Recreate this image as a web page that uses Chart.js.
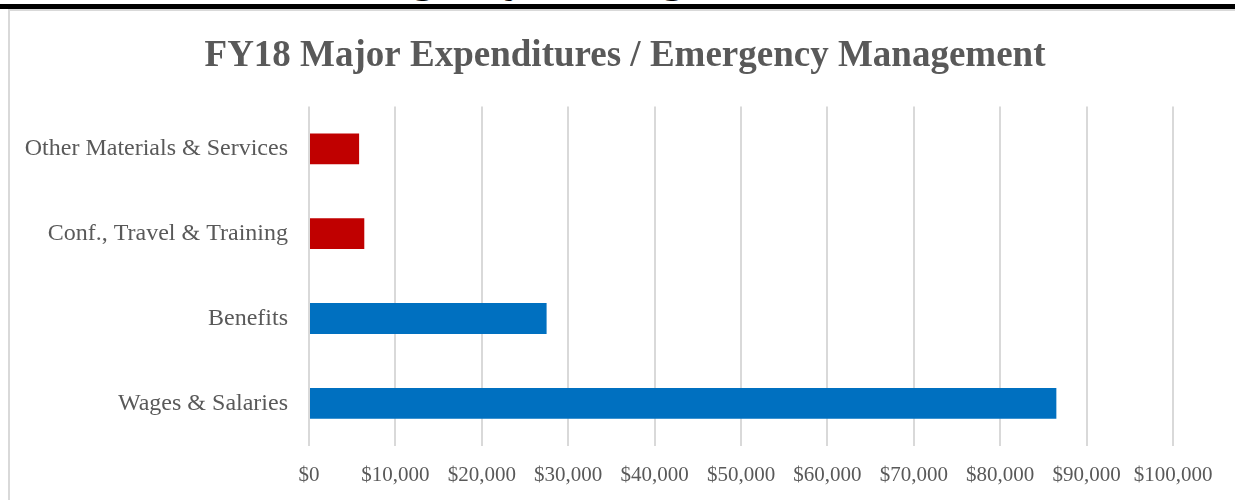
<!DOCTYPE html>
<html>
<head>
<meta charset="utf-8">
<script src="https://cdn.jsdelivr.net/npm/chart.js@4.4.1/dist/chart.umd.min.js"></script>
<style>
  html, body { margin: 0; padding: 0; background: #fff; overflow: hidden; }
  #heading {
    position: absolute; left: 296px; top: -49px;
    font: bold 48px "Liberation Serif", "Times New Roman", serif;
    color: #000; white-space: nowrap; line-height: 48px;
  }
  #rule { position: absolute; left: 0; top: 4px; width: 1235px; height: 5px; background: #000; }
  #box {
    position: absolute; left: 8px; top: 9px; width: 1240px; height: 500px;
    border-top: 2px solid #d9d9d9; border-left: 2px solid #d9d9d9;
  }
  #chart { display: block; }
</style>
</head>
<body>
<div id="heading">Emergency Management</div>
<div id="rule"></div>
<div id="box">
  <canvas id="chart" width="1230" height="489"></canvas>
</div>
<script>
// categories, top to bottom
const categories = ['Other Materials & Services', 'Conf., Travel & Training', 'Benefits', 'Wages & Salaries'];
const amounts = [5800, 6400, 27500, 86500];
const barColors = ['#C00000', '#C00000', '#0070C0', '#0070C0'];
const xTickLabels = ['$0', '$10,000', '$20,000', '$30,000', '$40,000', '$50,000',
                     '$60,000', '$70,000', '$80,000', '$90,000', '$100,000'];

const serif = '"Liberation Serif", "Times New Roman", serif';
const grey = '#595959';

// centre the title over the whole canvas, not just the padded area
const fullWidthTitle = {
  id: 'fullWidthTitle',
  afterLayout(chart) {
    if (chart.titleBlock) {
      chart.titleBlock.left = 0;
      chart.titleBlock.right = chart.width;
    }
  }
};

new Chart(document.getElementById('chart').getContext('2d'), {
  type: 'bar',
  data: {
    labels: categories,
    datasets: [{
      label: 'FY18',
      data: amounts,
      backgroundColor: barColors,
      borderWidth: 0,
      categoryPercentage: 1,
      barPercentage: 0.364
    }]
  },
  options: {
    indexAxis: 'y',
    responsive: false,
    animation: false,
    layout: { padding: { left: 0, right: 67, top: 0, bottom: -5 } },
    plugins: {
      legend: { display: false },
      tooltip: { enabled: false },
      title: {
        display: true,
        text: 'FY18 Major Expenditures / Emergency Management',
        color: grey,
        font: { family: serif, size: 37, weight: 'bold' },
        padding: { top: 23, bottom: 28 }
      }
    },
    scales: {
      x: {
        min: 0,
        max: 100000,
        ticks: {
          stepSize: 10000,
          color: grey,
          padding: 17,
          maxRotation: 0,
          font: { family: serif, size: 21 },
          callback: (v, i) => xTickLabels[i]
        },
        grid: { color: '#d9d9d9', lineWidth: 2, drawTicks: false },
        border: { display: false }
      },
      y: {
        afterFit: (scale) => {
          scale.width = 299;
          scale.paddingTop = 0;
          scale.paddingBottom = 0;
        },
        ticks: {
          color: grey,
          padding: 21,
          font: { family: serif, size: 24 }
        },
        grid: { display: false, drawTicks: false },
        border: { display: false }
      }
    }
  },
  plugins: [fullWidthTitle]
});
</script>
</body>
</html>
